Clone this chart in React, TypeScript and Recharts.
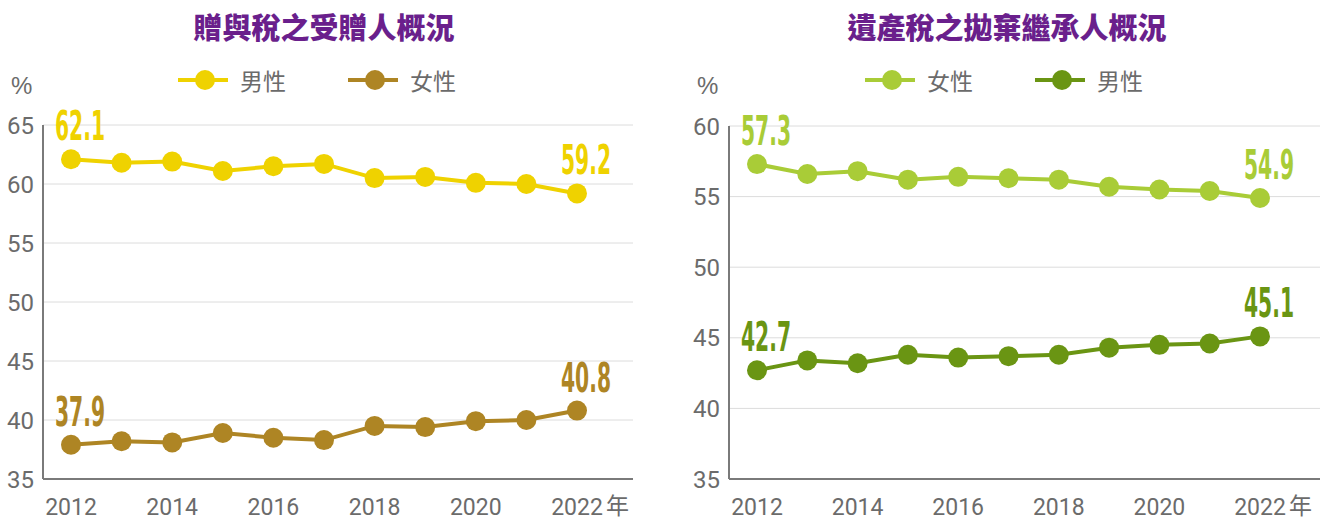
import { LineChart, Line, XAxis, YAxis, CartesianGrid } from "recharts";

const years = ["2012", "2013", "2014", "2015", "2016", "2017", "2018", "2019", "2020", "2021", "2022"];

// 贈與稅之受贈人
const giftMale = [62.1, 61.8, 61.9, 61.1, 61.5, 61.7, 60.5, 60.6, 60.1, 60.0, 59.2];
const giftFemale = [37.9, 38.2, 38.1, 38.9, 38.5, 38.3, 39.5, 39.4, 39.9, 40.0, 40.8];

// 遺產稅之拋棄繼承人
const estateFemale = [57.3, 56.6, 56.8, 56.2, 56.4, 56.3, 56.2, 55.7, 55.5, 55.4, 54.9];
const estateMale = [42.7, 43.4, 43.2, 43.8, 43.6, 43.7, 43.8, 44.3, 44.5, 44.6, 45.1];

const giftTicks = [35, 40, 45, 50, 55, 60, 65];
const estateTicks = [35, 40, 45, 50, 55, 60];

const GRAY = "#6b6b6b";
const TITLE = "#6a1f8c";

type Series = { key: string; name: string; color: string };

function YearTick({ x, y, payload }: any) {
  const last = payload.value === "2022";
  return (
    <g>
      <text x={x} y={y + 36} textAnchor="middle" fill={GRAY} fontSize={23} fontFamily="Roboto, sans-serif">
        {payload.value}
      </text>
      {last && (
        <text x={x + 29} y={y + 35} textAnchor="start" fill={GRAY} fontSize={23} fontFamily="'Noto Sans CJK TC', sans-serif">
          年
        </text>
      )}
    </g>
  );
}

function endLabel(color: string) {
  return (props: any) => {
    const { x, y, index, value } = props;
    if (index !== 0 && index !== years.length - 1) return null;
    return (
      <text
        key={`l-${index}`}
        x={x + 9}
        y={y - 19}
        textAnchor="middle"
        fill={color}
        fontSize={40}
        fontWeight="bold"
        fontFamily="'DejaVu Sans Condensed', 'DejaVu Sans', sans-serif"
        textLength={50}
        lengthAdjust="spacingAndGlyphs"
      >
        {Number(value).toFixed(1)}
      </text>
    );
  };
}

function LegendRow({ series, left }: { series: Series[]; left: number }) {
  return (
    <div style={{ position: "absolute", left, top: 68, display: "flex", alignItems: "center" }}>
      {series.map((s, i) => (
        <div key={s.key} style={{ display: "flex", alignItems: "center", marginRight: i === 0 ? 62 : 0 }}>
          <svg width={50} height={24}>
            <line x1={0} y1={12} x2={50} y2={12} stroke={s.color} strokeWidth={4} />
            <circle cx={27} cy={12} r={10} fill={s.color} />
          </svg>
          <span
            style={{
              marginLeft: 12,
              fontSize: 23,
              color: GRAY,
              fontFamily: "'Noto Sans CJK TC', sans-serif",
              lineHeight: "24px",
            }}
          >
            {s.name}
          </span>
        </div>
      ))}
    </div>
  );
}

interface PanelProps {
  left: number;
  width: number;
  title: string;
  titleWidth: number;
  data: any[];
  series: Series[];
  domain: [number, number];
  ticks: number[];
  plotLeft: number;
  plotRight: number;
  plotTop: number;
  legendLeft: number;
  padRight: number;
}

function Panel(p: PanelProps) {
  return (
    <div style={{ position: "absolute", left: p.left, top: 0, width: p.width, height: 522 }}>
      <LineChart
        width={p.width}
        height={522}
        data={p.data}
        margin={{ top: p.plotTop, right: p.width - p.plotRight, bottom: 0, left: p.plotLeft - 40 }}
      >
        <CartesianGrid vertical={false} stroke="#dcdcdc" strokeWidth={1} />
        <XAxis
          dataKey="year"
          height={43}
          tick={<YearTick />}
          interval={1}
          tickSize={0}
          tickMargin={0}
          padding={{ left: 28, right: p.padRight }}
          axisLine={{ stroke: "#7a7a7a", strokeWidth: 2 }}
        />
        <YAxis
          width={40}
          domain={p.domain}
          ticks={p.ticks}
          interval={0}
          tickSize={0}
          tickMargin={9}
          axisLine={{ stroke: "#7a7a7a", strokeWidth: 2 }}
          tick={{ fill: GRAY, fontSize: 24, fontFamily: "Roboto, sans-serif" }}
        />
        {p.series.map((s) => (
          <Line
            key={s.key}
            dataKey={s.key}
            name={s.name}
            stroke={s.color}
            strokeWidth={4}
            dot={{ r: 10, fill: s.color, stroke: s.color, strokeWidth: 0 }}
            activeDot={false}
            label={endLabel(s.color)}
            isAnimationActive={false}
          />
        ))}
      </LineChart>
      <div
        style={{
          position: "absolute",
          left: 0,
          top: 6,
          width: p.titleWidth,
          textAlign: "center",
          fontSize: 29,
          fontWeight: 900,
          color: TITLE,
          fontFamily: "'Noto Sans CJK TC', sans-serif",
          lineHeight: "40px",
        }}
      >
        {p.title}
      </div>
      <div
        style={{
          position: "absolute",
          left: p.plotLeft - 32,
          top: 72,
          fontSize: 24,
          lineHeight: "28px",
          color: GRAY,
          fontFamily: "'Liberation Sans', Arial, sans-serif",
        }}
      >
        %
      </div>
      <LegendRow series={p.series} left={p.legendLeft} />
    </div>
  );
}

export default function App() {
  const giftData = years.map((y, i) => ({ year: y, male: giftMale[i], female: giftFemale[i] }));
  const estateData = years.map((y, i) => ({ year: y, female: estateFemale[i], male: estateMale[i] }));

  return (
    <div style={{ position: "absolute", left: 0, top: 0, width: 1329, height: 522, background: "#fff" }}>
      <Panel
        left={0}
        width={664}
        title="贈與稅之受贈人概況"
        titleWidth={648}
        data={giftData}
        series={[
          { key: "male", name: "男性", color: "#efd200" },
          { key: "female", name: "女性", color: "#ae8524" },
        ]}
        domain={[35, 65]}
        ticks={giftTicks}
        plotLeft={43}
        plotRight={633}
        plotTop={125}
        legendLeft={178}
        padRight={56}
      />
      <Panel
        left={664}
        width={665}
        title="遺產稅之拋棄繼承人概況"
        titleWidth={686}
        data={estateData}
        series={[
          { key: "female", name: "女性", color: "#a9cc37" },
          { key: "male", name: "男性", color: "#6a9513" },
        ]}
        domain={[35, 60]}
        ticks={estateTicks}
        plotLeft={65}
        plotRight={656}
        plotTop={126}
        legendLeft={201}
        padRight={60}
      />
    </div>
  );
}
